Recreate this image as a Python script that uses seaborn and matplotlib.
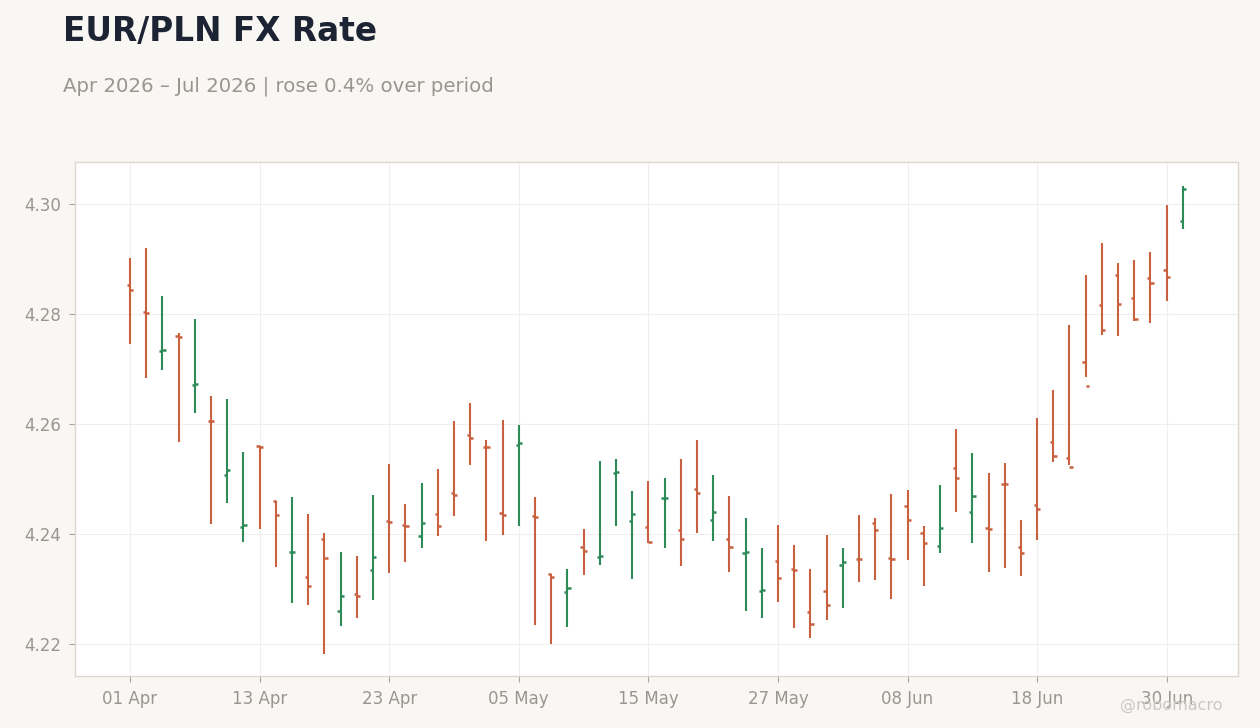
import matplotlib
matplotlib.use("Agg")
import matplotlib.pyplot as plt
import pandas as pd
import seaborn as sns

# daily OHLC, business days from 01 Apr 2026
dates = pd.bdate_range("2026-04-01", periods=66)
open_ = [4.2852, 4.2803, 4.2732, 4.2759, 4.2671, 4.2605, 4.2506, 4.2412, 4.2559, 4.2459,
         4.2366, 4.2322, 4.2390, 4.2260, 4.2291, 4.2333, 4.2423, 4.2415, 4.2396, 4.2436,
         4.2474, 4.2579, 4.2558, 4.2438, 4.2562, 4.2432, 4.2326, 4.2293, 4.2376, 4.2358,
         4.2511, 4.2423, 4.2412, 4.2464, 4.2407, 4.2482, 4.2425, 4.2390, 4.2365, 4.2295,
         4.2350, 4.2335, 4.2258, 4.2295, 4.2343, 4.2354, 4.2420, 4.2355, 4.2451, 4.2401,
         4.2377, 4.2519, 4.2440, 4.2410, 4.2491, 4.2376, 4.2452, 4.2567, 4.2538, 4.2712,
         4.2816, 4.2870, 4.2829, 4.2865, 4.2879, 4.2968]
high = [4.2901, 4.2919, 4.2833, 4.2765, 4.2790, 4.2650, 4.2644, 4.2548, 4.2559, 4.2459,
        4.2467, 4.2435, 4.2402, 4.2366, 4.2360, 4.2470, 4.2527, 4.2454, 4.2492, 4.2518,
        4.2604, 4.2637, 4.2571, 4.2606, 4.2597, 4.2467, 4.2326, 4.2336, 4.2408, 4.2533,
        4.2536, 4.2478, 4.2496, 4.2502, 4.2535, 4.2571, 4.2507, 4.2469, 4.2428, 4.2373,
        4.2415, 4.2380, 4.2335, 4.2397, 4.2373, 4.2434, 4.2428, 4.2472, 4.2480, 4.2413,
        4.2489, 4.2591, 4.2546, 4.2511, 4.2529, 4.2424, 4.2610, 4.2662, 4.2779, 4.2870,
        4.2928, 4.2893, 4.2897, 4.2913, 4.2997, 4.3033]
low = [4.2745, 4.2683, 4.2698, 4.2567, 4.2619, 4.2418, 4.2456, 4.2385, 4.2409, 4.2339,
       4.2273, 4.2271, 4.2181, 4.2232, 4.2247, 4.2280, 4.2328, 4.2348, 4.2374, 4.2396,
       4.2432, 4.2524, 4.2387, 4.2398, 4.2414, 4.2233, 4.2199, 4.2231, 4.2324, 4.2343,
       4.2414, 4.2317, 4.2383, 4.2374, 4.2341, 4.2401, 4.2387, 4.2330, 4.2260, 4.2247,
       4.2275, 4.2229, 4.2210, 4.2242, 4.2264, 4.2312, 4.2315, 4.2282, 4.2352, 4.2304,
       4.2365, 4.2440, 4.2383, 4.2330, 4.2337, 4.2323, 4.2389, 4.2530, 4.2525, 4.2685,
       4.2761, 4.2759, 4.2787, 4.2783, 4.2823, 4.2954]
close = [4.2843, 4.2801, 4.2734, 4.2758, 4.2672, 4.2604, 4.2516, 4.2416, 4.2557, 4.2434,
         4.2367, 4.2304, 4.2355, 4.2287, 4.2287, 4.2357, 4.2421, 4.2414, 4.2420, 4.2414,
         4.2470, 4.2574, 4.2557, 4.2433, 4.2565, 4.2431, 4.2322, 4.2301, 4.2369, 4.2359,
         4.2513, 4.2436, 4.2385, 4.2465, 4.2390, 4.2473, 4.2440, 4.2376, 4.2366, 4.2297,
         4.2319, 4.2333, 4.2236, 4.2271, 4.2348, 4.2353, 4.2407, 4.2354, 4.2425, 4.2383,
         4.2410, 4.2502, 4.2469, 4.2409, 4.2490, 4.2365, 4.2444, 4.2541, 4.2521, 4.2668,
         4.2770, 4.2818, 4.2790, 4.2856, 4.2867, 4.3027]

UP = "#2e8b57"
DOWN = "#c9603f"
BG = "#f9f7f4"
MUTED = "#9a958f"

sns.set_theme(style="whitegrid")
plt.rcParams["font.family"] = ["DejaVu Sans"]

df = pd.DataFrame({"date": dates, "open": open_, "high": high, "low": low, "close": close})
df["x"] = range(len(df))
df["color"] = [UP if c >= o else DOWN for o, c in zip(df["open"], df["close"])]

fig = plt.figure(figsize=(12.6, 7.28), dpi=100, facecolor=BG)
ax = fig.add_axes([0.0595, 0.0714, 0.9230, 0.7061])
ax.set_facecolor("white")

tick_w = 0.2
ax.vlines(df["x"], df["low"], df["high"], colors=df["color"], lw=1.5, zorder=3)
ax.hlines(df["open"], df["x"] - tick_w, df["x"], colors=df["color"], lw=1.8, zorder=3)
ax.hlines(df["close"], df["x"], df["x"] + tick_w, colors=df["color"], lw=1.8, zorder=3)

ax.set_xlim(-3.4, 68.4)
ax.set_ylim(4.2141, 4.3076)
xt = list(range(0, len(df), 8))
ax.set_xticks(xt)
ax.set_xticklabels([df["date"][i].strftime("%d %b") for i in xt])
ax.set_yticks([4.22, 4.24, 4.26, 4.28, 4.30])
ax.set_yticklabels([f"{v:.2f}" for v in [4.22, 4.24, 4.26, 4.28, 4.30]])

ax.grid(True, color="#efefef", lw=0.8)
ax.tick_params(axis="both", which="major", length=4, width=0.8, color="#a8a39d",
               labelcolor=MUTED, labelsize=12, pad=6, bottom=True, left=True)
for s in ax.spines.values():
    s.set_color("#dcd7cf")
    s.set_linewidth(1.0)
ax.set_xlabel("")
ax.set_ylabel("")

pct = (close[-1] / close[0] - 1) * 100
fig.text(0.05, 1 - 41 / 728, "EUR/PLN FX Rate", fontsize=23.6, fontweight="bold",
         color="#1c2333", va="baseline", ha="left")
fig.text(0.05, 1 - 92 / 728, f"Apr 2026 \u2013 Jul 2026 | rose {pct:.1f}% over period",
         fontsize=14.25, color=MUTED, va="baseline", ha="left")
fig.text(0.97, 1 - 710 / 728, "@robomacro", fontsize=11.5, color="#cbc7c2",
         va="baseline", ha="right")

fig.savefig("out.png", dpi=100, facecolor=BG)
